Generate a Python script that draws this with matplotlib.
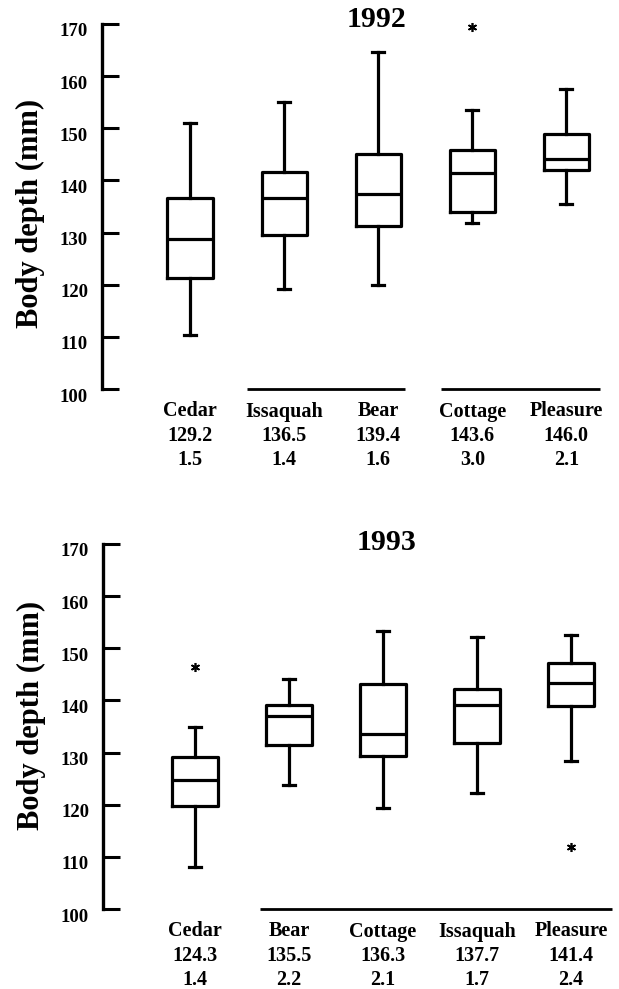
import matplotlib.pyplot as plt
from matplotlib.transforms import ScaledTranslation

plt.rcParams['font.family'] = ['Liberation Serif', 'DejaVu Serif']
plt.rcParams['font.weight'] = 'bold'

# 1992 panel
cats92 = ['Cedar', 'Issaquah', 'Bear', 'Cottage', 'Pleasure']
mean92 = [129.2, 136.5, 139.4, 143.6, 146.0]
se92 = [1.5, 1.4, 1.6, 3.0, 2.1]
whislo92 = [110.3, 119.2, 119.9, 131.9, 135.5]
q1_92 = [121.2, 129.6, 131.3, 133.9, 142.0]
med92 = [128.8, 136.6, 137.4, 141.5, 144.2]
q3_92 = [136.6, 141.7, 145.0, 145.8, 149.0]
whishi92 = [151.0, 155.1, 164.6, 153.6, 157.5]
fliers92 = [[], [], [], [169.4], []]
groups92 = [(2, 3), (4, 5)]   # lakes joined by a line

# 1993 panel
cats93 = ['Cedar', 'Bear', 'Cottage', 'Issaquah', 'Pleasure']
mean93 = [124.3, 135.5, 136.3, 137.7, 141.4]
se93 = [1.4, 2.2, 2.1, 1.7, 2.4]
whislo93 = [108.1, 123.8, 119.3, 122.3, 128.3]
q1_93 = [119.8, 131.4, 129.3, 131.9, 139.0]
med93 = [124.7, 137.1, 133.6, 139.2, 143.4]
q3_93 = [129.2, 139.2, 143.2, 142.1, 147.1]
whishi93 = [134.9, 144.2, 153.4, 152.2, 152.5]
fliers93 = [[146.5], [], [], [], [111.9]]
groups93 = [(2, 5)]

yticks = [100, 110, 120, 130, 140, 150, 160, 170]


def make_stats(lo, q1, med, q3, hi, fl):
    out = []
    for i in range(len(med)):
        out.append(dict(whislo=lo[i], q1=q1[i], med=med[i], q3=q3[i],
                        whishi=hi[i], fliers=fl[i]))
    return out


def draw_panel(ax, title, cats, means, ses, stats, groups, xlim, ext,
               title_xy, label_y):
    lw = 2.3
    ax.bxp(stats, positions=range(1, len(cats) + 1), widths=0.48,
           capwidths=0.13, showfliers=True,
           boxprops=dict(color='black', linewidth=lw),
           medianprops=dict(color='black', linewidth=lw),
           whiskerprops=dict(color='black', linewidth=lw),
           capprops=dict(color='black', linewidth=lw),
           flierprops=dict(marker=(6, 2, 0), markersize=6.5,
                           markeredgecolor='black', markeredgewidth=1.2,
                           clip_on=False))
    ax.set_ylim(100, 170)
    ax.set_xlim(*xlim)
    ax.set_yticks(yticks)
    ax.tick_params(axis='y', direction='in', length=12, width=2.2,
                   labelsize=13.5, pad=10)
    # tick labels sit a little below their ticks in the original
    shift = ScaledTranslation(0, -0.06, ax.figure.dpi_scale_trans)
    for lab in ax.get_yticklabels():
        lab.set_transform(lab.get_transform() + shift)
    for sp in ['top', 'right', 'bottom']:
        ax.spines[sp].set_visible(False)
    ax.spines['left'].set_linewidth(2.4)
    ax.set_xticks(range(1, len(cats) + 1))
    ax.set_xticklabels(['%s\n%.1f\n%.1f' % (c, m, s)
                        for c, m, s in zip(cats, means, ses)],
                       linespacing=1.27)
    ax.tick_params(axis='x', length=0, labelsize=14.5, pad=9)
    ax.set_ylabel('Body depth (mm)', fontsize=22, fontweight='bold')
    ax.yaxis.set_label_coords(-0.11, label_y)
    for (a, b), (el, er) in zip(groups, ext):
        ax.plot([a - el, b + er], [100, 100], color='black',
                linewidth=2.0, clip_on=False, solid_capstyle='butt')
    ax.text(title_xy[0], title_xy[1], title, transform=ax.transAxes,
            ha='center', va='center', fontsize=21.5, fontweight='bold')


fig = plt.figure(figsize=(6.19, 9.89), dpi=100)
ax1 = fig.add_axes([102 / 619, 1 - 389 / 989, 517 / 619, 365 / 989])
ax2 = fig.add_axes([103 / 619, 1 - 909 / 989, 516 / 619, 365 / 989])

draw_panel(ax1, '1992', cats92, mean92, se92,
           make_stats(whislo92, q1_92, med92, q3_92, whishi92, fliers92),
           groups92, (0.064, 5.56), [(0.39, 0.28), (0.33, 0.36)],
           (0.530, 1.011), 0.48)
draw_panel(ax2, '1993', cats93, mean93, se93,
           make_stats(whislo93, q1_93, med93, q3_93, whishi93, fliers93),
           groups93, (0.021, 5.51), [(0.31, 0.44)],
           (0.550, 1.003), 0.53)

fig.savefig('out.png', dpi=100)
